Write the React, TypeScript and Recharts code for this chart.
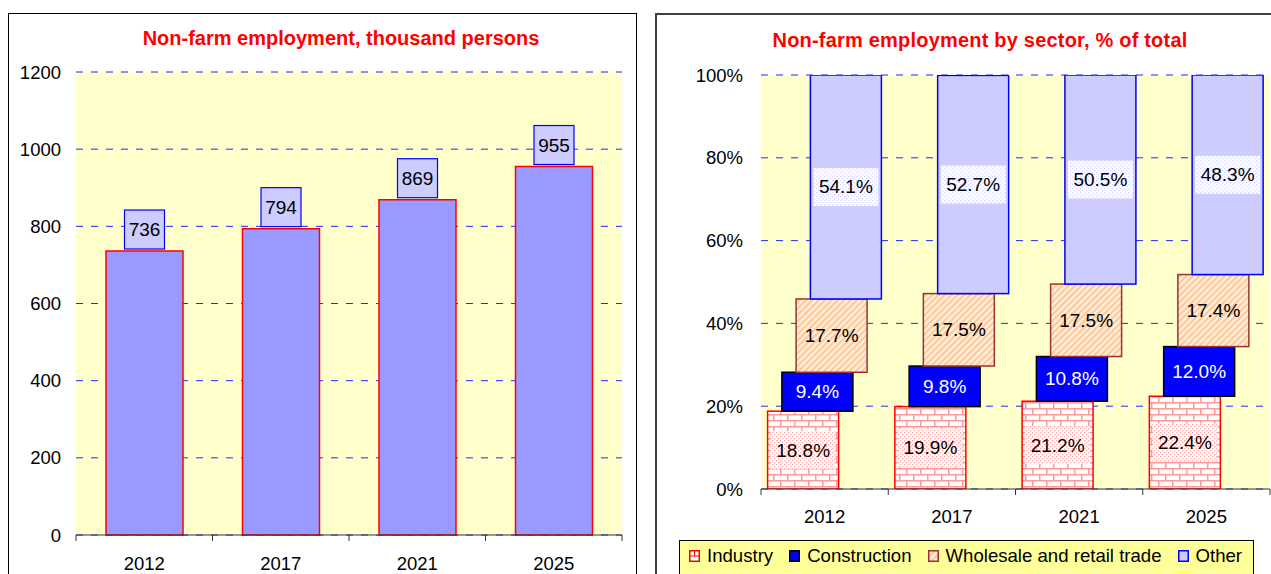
import { Bar, BarChart, CartesianGrid, LabelList, XAxis, YAxis } from 'recharts'

const years = ['2012', '2017', '2021', '2025']
const totalEmployment = [736, 794, 869, 955]
const industryShare = [18.8, 19.9, 21.2, 22.4]
const constructionShare = [9.4, 9.8, 10.8, 12.0]
const tradeShare = [17.7, 17.5, 17.5, 17.4]
const otherShare = [54.1, 52.7, 50.5, 48.3]
const totalTicks = [0, 200, 400, 600, 800, 1000, 1200]
const shareTicks = [0, 20, 40, 60, 80, 100]

const totalData = years.map((year, i) => ({ year, total: totalEmployment[i] }))
const shareData = years.map((year, i) => ({
    year,
    industry: industryShare[i],
    construction: constructionShare[i],
    trade: tradeShare[i],
    other: otherShare[i],
}))

const FONT = '"Liberation Sans", Arial, Helvetica, sans-serif'
const GRID_BLUE = '#2626FF'

// each sector is drawn a little to the right of the one below it
const sectors = [
    { key: 'industry', name: 'Industry', fill: 'url(#brick)', stroke: '#FF0000', shift: -21.4, labelBg: 'url(#dotsPink)', text: '#000' },
    { key: 'construction', name: 'Construction', fill: '#0000FF', stroke: '#000000', shift: -7.1, labelBg: '', text: '#FFF' },
    { key: 'trade', name: 'Wholesale and retail trade', fill: 'url(#stripes)', stroke: '#993333', shift: 7.1, labelBg: '', text: '#000' },
    { key: 'other', name: 'Other', fill: '#CCCCFF', stroke: '#0000FF', shift: 21.4, labelBg: 'url(#dotsBlue)', text: '#000' },
]

const makeXTick = (margin: number, count: number) => (props: any) => {
    const { x, y, payload, index } = props
    const half = payload.offset ?? 0
    const axisY = y - margin
    return (
        <g>
            <line x1={x - half} x2={x - half} y1={axisY} y2={axisY + 6} stroke="#333" />
            {index === count - 1 && <line x1={x + half} x2={x + half} y1={axisY} y2={axisY + 6} stroke="#333" />}
            <text x={x} y={y} dy="0.71em" textAnchor="middle" fontSize={18.5} fill="#000" fontFamily={FONT}>
                {payload.value}
            </text>
        </g>
    )
}

const totalLabel = (props: any) => {
    const { x, y, width, value } = props
    const cx = x + width / 2
    return (
        <g>
            <rect x={cx - 20} y={y - 41} width={40} height={39} fill="#CCCCFF" stroke="#0000FF" strokeWidth={1.2} />
            <text x={cx} y={y - 21.5} textAnchor="middle" dominantBaseline="central" fontSize={19} fill="#000" fontFamily={FONT}>
                {value}
            </text>
        </g>
    )
}

const shiftedShape = (s: typeof sectors[number]) => (props: any) => {
    const { x, y, width, height } = props
    return <rect x={x + s.shift} y={y} width={width} height={height} fill={s.fill} stroke={s.stroke} strokeWidth={1.5} />
}

const shareLabel = (s: typeof sectors[number]) => (props: any) => {
    const { x, y, width, height, value } = props
    const cx = x + s.shift + width / 2
    const cy = y + height / 2
    return (
        <g>
            {s.labelBg && <rect x={cx - width / 2 + 3} y={cy - 19} width={width - 6} height={38} fill={s.labelBg} />}
            <text x={cx} y={cy} textAnchor="middle" dominantBaseline="central" fontSize={19} fill={s.text} fontFamily={FONT}>
                {Number(value).toFixed(1)}%
            </text>
        </g>
    )
}

function LegendIcon({ k }: { k: string }) {
    const box = { width: 11, height: 12, style: { flexShrink: 0 } }
    if (k === 'industry') {
        return (
            <svg {...box}>
                <rect x={0.75} y={0.75} width={9.5} height={10.5} fill="#fff" stroke="#FF0000" strokeWidth={1.5} />
                <path d="M1 6H10M5.5 1V6" stroke="#FF0000" strokeWidth={1} />
            </svg>
        )
    }
    if (k === 'construction') {
        return <svg {...box}><rect x={0.75} y={0.75} width={9.5} height={10.5} fill="#0000FF" stroke="#000" strokeWidth={1.5} /></svg>
    }
    if (k === 'trade') {
        return <svg {...box}><rect x={0.75} y={0.75} width={9.5} height={10.5} fill="url(#stripes)" stroke="#993333" strokeWidth={1.5} /></svg>
    }
    return <svg {...box}><rect x={0.75} y={0.75} width={9.5} height={10.5} fill="#CCCCFF" stroke="#0000FF" strokeWidth={1.5} /></svg>
}

const titleStyle = {
    position: 'absolute' as const,
    textAlign: 'center' as const,
    color: '#FF0000',
    fontWeight: 700,
    fontSize: 20,
    lineHeight: '24px',
    fontFamily: FONT,
    whiteSpace: 'nowrap' as const,
}

export default function App() {
    return (
        <div style={{ position: 'absolute', left: 0, top: 0, width: 1271, height: 574, overflow: 'hidden', background: '#fff', fontFamily: FONT }}>
            <div style={{ position: 'absolute', left: 8, top: 13, width: 629, height: 620, border: '1px solid #000', boxSizing: 'border-box' }} />
            <div style={{ position: 'absolute', left: 655, top: 13, width: 700, height: 620, border: '2px solid #404040', boxSizing: 'border-box' }} />

            <div style={{ ...titleStyle, left: 141, width: 400, top: 26 }}>Non-farm employment, thousand persons</div>
            <div style={{ ...titleStyle, left: 770, width: 420, top: 28, letterSpacing: 0.2 }}>Non-farm employment by sector, % of total</div>

            <div style={{ position: 'absolute', left: 0, top: 0 }}>
                <BarChart width={640} height={574} data={totalData} margin={{ top: 72, right: 18, bottom: 0, left: 0 }}>
                    <CartesianGrid vertical={false} fill="#FFFFCC" stroke={GRID_BLUE} strokeDasharray="7 8" />
                    <XAxis
                        dataKey="year"
                        height={39}
                        interval={0}
                        axisLine={{ stroke: '#333' }}
                        tickLine={false}
                        tickSize={0}
                        tickMargin={22}
                        tick={makeXTick(22, years.length)}
                    />
                    <YAxis
                        width={76}
                        domain={[0, 1200]}
                        ticks={totalTicks}
                        axisLine={false}
                        tickLine={false}
                        tickSize={6}
                        tickMargin={9}
                        tick={{ fill: '#000', fontSize: 18.5, fontFamily: FONT }}
                    />
                    <Bar dataKey="total" barSize={77} fill="#9999FF" stroke="#FF0000" strokeWidth={1.5} isAnimationActive={false}>
                        <LabelList dataKey="total" content={totalLabel} />
                    </Bar>
                </BarChart>
            </div>

            <div style={{ position: 'absolute', left: 640, top: 0 }}>
                <BarChart width={631} height={574} data={shareData} margin={{ top: 75, right: 1, bottom: 55, left: 0 }}>
                    <defs>
                        <pattern id="brick" width="14" height="12" patternUnits="userSpaceOnUse">
                            <rect width="14" height="12" fill="#FFFFFF" />
                            <path d="M0 0.75H14M0 6.75H14M0.75 0V6.75M7.75 6.75V12" stroke="#FF9999" strokeWidth="1.5" fill="none" />
                        </pattern>
                        <pattern id="stripes" width="4.5" height="4.5" patternUnits="userSpaceOnUse" patternTransform="rotate(45)">
                            <rect width="4.5" height="4.5" fill="#FFF0E0" />
                            <rect width="2.2" height="4.5" fill="#FFC896" />
                        </pattern>
                        <pattern id="dotsPink" width="4" height="4" patternUnits="userSpaceOnUse">
                            <rect width="4" height="4" fill="#FFFFFF" />
                            <rect width="1.3" height="1.3" fill="#FFAAAA" />
                            <rect x="2" y="2" width="1.3" height="1.3" fill="#FFAAAA" />
                        </pattern>
                        <pattern id="dotsBlue" width="4" height="4" patternUnits="userSpaceOnUse">
                            <rect width="4" height="4" fill="#FFFFFF" />
                            <rect width="1.3" height="1.3" fill="#D6D6FF" />
                            <rect x="2" y="2" width="1.3" height="1.3" fill="#D6D6FF" />
                        </pattern>
                    </defs>
                    <CartesianGrid vertical={false} fill="#FFFFCC" stroke={GRID_BLUE} strokeDasharray="7 8" />
                    <XAxis
                        dataKey="year"
                        height={30}
                        interval={0}
                        axisLine={{ stroke: '#333' }}
                        tickLine={false}
                        tickSize={0}
                        tickMargin={21}
                        tick={makeXTick(21, years.length)}
                    />
                    <YAxis
                        width={121}
                        domain={[0, 100]}
                        allowDataOverflow
                        ticks={shareTicks}
                        tickFormatter={(v) => `${v}%`}
                        axisLine={false}
                        tickLine={false}
                        tickSize={6}
                        tickMargin={12}
                        tick={{ fill: '#000', fontSize: 18.5, fontFamily: FONT }}
                    />
                    {sectors.map((s) => (
                        <Bar
                            key={s.key}
                            dataKey={s.key}
                            name={s.name}
                            stackId="share"
                            barSize={71}
                            fill={s.fill}
                            stroke={s.stroke}
                            shape={shiftedShape(s)}
                            isAnimationActive={false}
                        >
                            <LabelList dataKey={s.key} content={shareLabel(s)} />
                        </Bar>
                    ))}
                </BarChart>
            </div>

            <div
                style={{
                    position: 'absolute',
                    left: 679,
                    top: 540,
                    width: 575,
                    height: 50,
                    background: '#FFFF99',
                    border: '1px solid #000',
                    boxSizing: 'border-box',
                    display: 'flex',
                    alignItems: 'flex-start',
                    padding: '4px 0 0 9px',
                    fontSize: 18.6,
                    lineHeight: '22px',
                    color: '#000',
                    whiteSpace: 'nowrap',
                }}
            >
                {sectors.map((s) => (
                    <div key={s.key} style={{ display: 'flex', alignItems: 'center', marginRight: 16, flexShrink: 0 }}>
                        <LegendIcon k={s.key} />
                        <span style={{ marginLeft: 7 }}>{s.name}</span>
                    </div>
                ))}
            </div>
        </div>
    )
}
